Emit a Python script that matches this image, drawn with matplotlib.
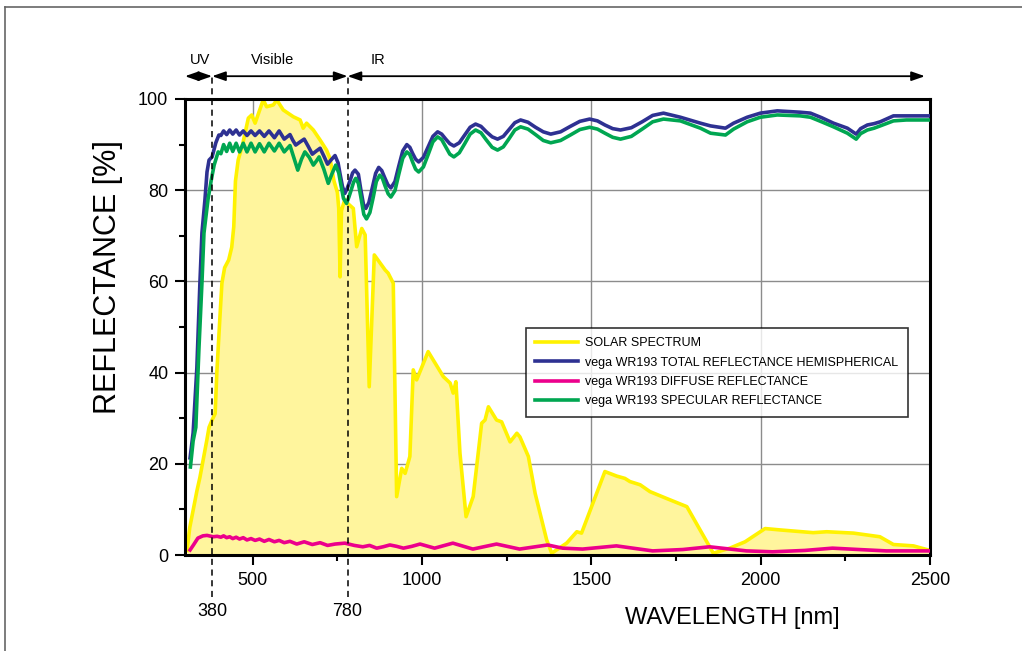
#!/usr/bin/env python3
"""
Reflectance of vega WR193 vs. the solar spectrum, 300-2500 nm.
Saves the chart to out.png.
"""

import matplotlib.pyplot as plt
from matplotlib.lines import Line2D
from matplotlib.ticker import MultipleLocator
import matplotlib.transforms as mtransforms

# --- solar spectrum (relative, %) ---
solar_wl = [306, 314, 335, 344, 364, 371, 380, 389, 394, 403, 409, 417, 429, 438,
            444, 447, 449, 457, 470, 487, 497, 507, 531, 541, 561, 571, 590, 620,
            640, 649, 659, 679, 699, 718, 728, 740, 750, 754, 758, 762, 772, 782,
            797, 807, 822, 832, 844, 859, 891, 900, 915, 925, 940, 950, 964, 974,
            984, 1018, 1063, 1083, 1092, 1100, 1112, 1130, 1151, 1176, 1186, 1196,
            1220, 1235, 1260, 1280, 1289, 1314, 1334, 1368, 1383, 1427, 1457, 1471,
            1540, 1575, 1599, 1614, 1644, 1673, 1722, 1782, 1860, 1909, 1954, 2013,
            2057, 2155, 2195, 2274, 2352, 2392, 2451, 2495]
solar_val = [1.0, 6.0, 14.0, 17.0, 25.0, 28.0, 29.6, 31.0, 40.0, 52.0, 59.6, 63.0, 64.7, 67.5,
             72.0, 78.0, 82.0, 86.6, 90.0, 95.8, 96.5, 94.7, 99.8, 98.3, 98.7, 99.8, 97.6, 96.1,
             95.4, 93.6, 94.7, 93.2, 91.0, 88.8, 87.0, 82.0, 79.5, 76.0, 61.0, 75.5, 78.0, 77.0,
             76.0, 67.6, 71.6, 70.2, 36.9, 65.8, 62.5, 61.8, 59.6, 12.8, 19.0, 17.9, 21.6, 40.6,
             38.4, 44.6, 39.1, 37.7, 35.5, 38.0, 22.3, 8.4, 12.8, 28.9, 29.6, 32.5,
             29.6, 29.2, 24.8, 26.7, 25.9, 21.6, 13.5, 3.3, 0.4, 2.6, 5.1, 4.8,
             18.3, 17.3, 16.8, 16.1, 15.4, 13.9, 12.4, 10.6, 0.4, 1.5, 2.9, 5.8,
             5.5, 4.9, 5.1, 4.8, 4.0, 2.3, 2.0, 1.1]

# --- total reflectance hemispherical (%) ---
total_wl = [315, 324, 335, 344, 350, 359, 365, 371, 380, 391, 400, 406, 414, 423, 432,
            441, 451, 461, 472, 483, 495, 507, 520, 534, 548, 564, 578, 593, 610,
            618, 627, 640, 652, 664, 676, 688, 699, 710, 721, 732, 743, 752, 758,
            765, 772, 779, 787, 795, 802, 812, 819, 827, 834, 843, 853, 863, 872,
            881, 890, 899, 908, 920, 931, 943, 955, 964, 972, 981, 990, 1004, 1018,
            1032, 1046, 1058, 1070, 1082, 1094, 1110, 1126, 1142, 1158, 1174, 1190,
            1207, 1223, 1240, 1257, 1274, 1291, 1313, 1335, 1358, 1380, 1409, 1438,
            1466, 1495, 1518, 1540, 1563, 1586, 1618, 1650, 1681, 1713, 1763, 1822,
            1852, 1896, 1920, 1960, 1999, 2049, 2117, 2147, 2180, 2215, 2256, 2282,
            2295, 2315, 2335, 2353, 2392, 2430, 2500]
total_val = [21.3, 26.8, 41.0, 59.6, 70.6, 78.0, 84.0, 86.6, 87.3, 90.4, 92.1, 92.0, 93.0, 92.2, 93.2,
             92.3, 93.2, 92.1, 93.0, 92.0, 93.0, 92.0, 93.0, 91.8, 93.0, 91.5, 93.0, 91.2, 92.2,
             91.0, 89.9, 90.6, 91.2, 89.6, 87.9, 88.6, 89.2, 87.5, 85.7, 86.7, 87.6, 86.0, 83.5,
             80.8, 79.3, 80.4, 82.0, 83.8, 84.4, 83.5, 80.2, 76.9, 76.0, 77.3, 80.5, 83.7, 85.0,
             84.3, 82.7, 81.2, 80.5, 81.9, 85.2, 88.6, 90.0, 89.4, 88.1, 86.8, 86.2, 87.2, 89.5,
             91.8, 92.8, 92.3, 91.2, 90.2, 89.7, 90.4, 92.1, 93.8, 94.5, 94.0, 92.8,
             91.7, 91.2, 91.8, 93.3, 94.8, 95.4, 94.9, 93.8, 92.8, 92.3, 92.8, 94.0,
             95.1, 95.6, 95.2, 94.3, 93.5, 93.2, 93.7, 95.0, 96.4, 96.9, 96.0, 94.7,
             94.1, 93.6, 94.7, 96.0, 96.9, 97.4, 97.1, 96.9, 95.9, 94.7, 93.6, 92.3,
             93.5, 94.3, 94.6, 95.0, 96.3, 96.3, 96.3]

# --- specular reflectance (%) ---
spec_wl = [316, 324, 332, 341, 350, 356, 368, 377, 386, 398, 406, 414, 423, 432,
           441, 451, 461, 472, 483, 495, 507, 520, 534, 548, 564, 578, 593, 610,
           622, 633, 644, 654, 667, 679, 688, 696, 710, 723, 734, 745, 754, 760,
           768, 777, 784, 791, 798, 804, 812, 820, 828, 836, 846, 856, 865, 875,
           883, 891, 900, 908, 920, 931, 943, 955, 964, 972, 981, 990, 1004, 1018,
           1032, 1046, 1058, 1070, 1082, 1094, 1110, 1126, 1142, 1158, 1174, 1190,
           1207, 1223, 1240, 1257, 1274, 1291, 1313, 1335, 1358, 1380, 1409, 1438,
           1466, 1495, 1518, 1540, 1563, 1586, 1618, 1650, 1681, 1713, 1763, 1822,
           1852, 1896, 1920, 1960, 1999, 2049, 2117, 2147, 2180, 2215, 2256, 2282,
           2295, 2315, 2335, 2353, 2392, 2430, 2500]
spec_val = [19.3, 25.0, 28.0, 45.0, 59.6, 70.6, 78.0, 82.0, 85.5, 88.4, 88.0, 90.0, 88.5, 90.3,
            88.5, 90.3, 88.4, 90.3, 88.4, 90.3, 88.4, 90.2, 88.4, 90.3, 88.6, 90.3, 88.4, 89.8,
            87.0, 84.4, 86.8, 88.4, 87.2, 85.5, 86.4, 87.3, 84.6, 81.5, 83.6, 85.5, 83.8, 81.3,
            78.2, 77.1, 78.5, 80.1, 81.8, 82.6, 81.5, 78.2, 74.7, 73.7, 75.1, 78.5, 81.9, 83.3,
            82.6, 80.9, 79.2, 78.5, 79.9, 83.4, 87.0, 88.4, 87.8, 86.2, 84.6, 84.0, 85.1, 87.8,
            90.6, 91.7, 91.1, 89.5, 87.9, 87.3, 88.2, 90.2, 92.3, 93.2, 92.6, 91.0,
            89.4, 88.8, 89.5, 91.3, 93.2, 93.9, 93.4, 92.2, 90.9, 90.4, 90.9, 92.1,
            93.3, 93.8, 93.4, 92.5, 91.6, 91.2, 91.8, 93.4, 95.0, 95.6, 95.2, 93.6,
            92.5, 92.1, 93.4, 95.0, 96.0, 96.5, 96.3, 96.0, 95.0, 93.9, 92.5, 91.2,
            92.4, 93.2, 93.6, 94.1, 95.2, 95.4, 95.4]

# --- diffuse reflectance (%) ---
diff_wl = [315, 325, 338, 353, 365, 383, 395, 406, 414, 423, 432, 441, 451, 461, 472,
           483, 495, 507, 520, 534, 548, 564, 578, 593, 610, 630, 652, 676, 699, 721,
           743, 772, 800, 825, 845, 866, 885, 905, 925, 945, 970, 994, 1037, 1091,
           1150, 1220, 1288, 1371, 1415, 1474, 1574, 1681, 1770, 1849, 1958, 2035,
           2130, 2212, 2290, 2371, 2500]
diff_val = [1.1, 2.2, 3.7, 4.2, 4.3, 4.0, 4.1, 3.9, 4.2, 3.8, 4.0, 3.6, 3.9, 3.5, 3.8,
            3.3, 3.6, 3.2, 3.5, 3.0, 3.4, 2.9, 3.2, 2.7, 3.0, 2.4, 2.9, 2.3, 2.7, 2.1,
            2.4, 2.6, 2.1, 1.8, 2.1, 1.5, 1.8, 2.2, 1.9, 1.5, 1.9, 2.4, 1.5, 2.6,
            1.3, 2.4, 1.3, 2.2, 1.5, 1.3, 2.0, 0.9, 1.2, 1.8, 0.9, 0.7,
            1.0, 1.5, 1.2, 0.9, 0.9]

legend_labels = ["SOLAR SPECTRUM",
                 "vega WR193 TOTAL REFLECTANCE HEMISPHERICAL",
                 "vega WR193 DIFFUSE REFLECTANCE",
                 "vega WR193 SPECULAR REFLECTANCE"]

band_edges = [300, 380, 780, 2485]
band_names = ["UV", "Visible", "IR"]
band_marks = [380, 780]

YELLOW = "#fff200"
YELLOW_FILL = "#fff59d"
BLUE = "#2e3192"
PINK = "#ec008c"
GREEN = "#00a651"
LW = 2.6


# === DRAW_CURVES ===
def draw_curves(ax):
    ax.fill_between(solar_wl, solar_val, 0, color=YELLOW_FILL, lw=0, zorder=1)
    ax.plot(solar_wl, solar_val, color=YELLOW, lw=LW, zorder=2, label=legend_labels[0])
    ax.plot(total_wl, total_val, color=BLUE, lw=LW, zorder=3, label=legend_labels[1])
    ax.plot(diff_wl, diff_val, color=PINK, lw=LW, zorder=3, label=legend_labels[2])
    ax.plot(spec_wl, spec_val, color=GREEN, lw=LW, zorder=3, label=legend_labels[3])


# === DRAW_BANDS ===
# UV / Visible / IR arrows above the plot and the dashed band limits.
def draw_bands(ax):
    trans = mtransforms.blended_transform_factory(ax.transData, ax.transAxes)
    for k in range(len(band_names)):
        x0, x1 = band_edges[k], band_edges[k + 1]
        ax.annotate("", xy=(x1, 1.050), xytext=(x0, 1.050), xycoords=trans, textcoords=trans,
                    annotation_clip=False,
                    arrowprops=dict(arrowstyle="<|-|>,head_length=0.8,head_width=0.28",
                                    color="black", lw=1.3, shrinkA=0, shrinkB=0,
                                    mutation_scale=10))
    text_x = [345, 560, 870]
    for name, tx in zip(band_names, text_x):
        ax.text(tx, 1.086, name, transform=trans, ha="center", va="center",
                fontsize=10.5, clip_on=False)
    for wl in band_marks:
        ax.add_line(Line2D([wl, wl], [-0.092, 1.057], transform=trans, color="black",
                           lw=1.1, ls=(0, (4, 3)), clip_on=False, zorder=4))
        ax.text(wl, -0.125, str(wl), transform=trans, ha="center", va="center",
                fontsize=13, clip_on=False)


# === MAIN ===
def main():
    plt.rcParams["font.family"] = ["Liberation Sans", "DejaVu Sans"]

    fig = plt.figure(figsize=(10.22, 6.51), dpi=100)
    ax = fig.add_axes([185 / 1022, 1 - 555 / 651, 745 / 1022, 456 / 651])

    draw_curves(ax)

    ax.set_xlim(300, 2500)
    ax.set_ylim(0, 100)
    ax.xaxis.set_major_locator(MultipleLocator(500))
    ax.xaxis.set_minor_locator(MultipleLocator(250))
    ax.yaxis.set_major_locator(MultipleLocator(20))
    ax.yaxis.set_minor_locator(MultipleLocator(10))
    ax.set_axisbelow(True)
    ax.grid(True, which="major", color="#8c8c8c", lw=1.0)
    ax.tick_params(which="major", direction="out", length=7, width=1.5, labelsize=13, pad=5)
    ax.tick_params(which="minor", direction="out", length=4, width=1.5)
    for sp in ax.spines.values():
        sp.set_linewidth(2.2)
        sp.set_color("black")

    ax.set_xlabel("WAVELENGTH [nm]", fontsize=17, va="center")
    ax.xaxis.set_label_coords(0.735, -0.138)
    ax.set_ylabel("REFLECTANCE [%]", fontsize=22, va="center")
    ax.yaxis.set_label_coords(-0.103, 0.61)

    draw_bands(ax)

    leg = ax.legend(loc="upper left", bbox_to_anchor=(0.4577, 0.4978), borderaxespad=0,
                    fontsize=9, frameon=True, fancybox=False, handlelength=3.4,
                    handletextpad=0.6, labelspacing=0.58, borderpad=0.75)
    leg.get_frame().set_edgecolor("black")
    leg.get_frame().set_linewidth(1.2)

    # thin grey page frame (top and left edges visible)
    fig.add_artist(Line2D([5 / 1022, 5 / 1022], [0, 1 - 7 / 651], color="#666666", lw=1.2))
    fig.add_artist(Line2D([5 / 1022, 1], [1 - 7 / 651, 1 - 7 / 651], color="#666666", lw=1.2))

    fig.savefig("out.png", dpi=100)


if __name__ == "__main__":
    main()
